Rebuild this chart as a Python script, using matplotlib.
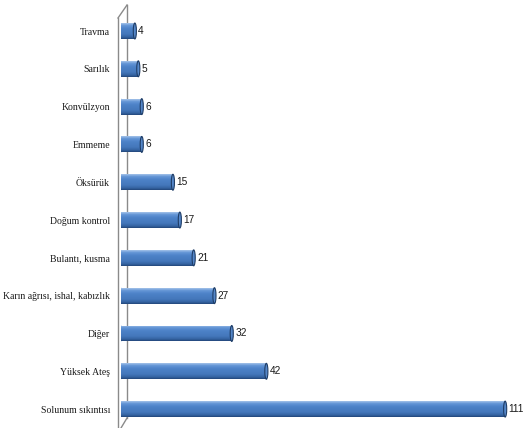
import numpy as np
import matplotlib
matplotlib.use("Agg")
import matplotlib.pyplot as plt
from matplotlib.colors import LinearSegmentedColormap
from matplotlib.patches import Rectangle, Ellipse
from matplotlib.lines import Line2D

# Complaint categories (top to bottom) and counts
categories = ["Travma", "Sarılık", "Konvülzyon", "Emmeme", "Öksürük",
              "Doğum kontrol", "Bulantı, kusma", "Karın ağrısı, ishal, kabızlık",
              "Diğer", "Yüksek Ateş", "Solunum sıkıntısı"]
counts = [4, 5, 6, 6, 15, 17, 21, 27, 32, 42, 111]

W, H = 527, 428
fig = plt.figure(figsize=(W / 100, H / 100), dpi=100)
fig.patch.set_facecolor("white")

ax_left, ax_right = 121, 519
ax = fig.add_axes([ax_left / W, 0, (ax_right - ax_left) / W, 1])
ax.set_xlim(0, 115)
ax.set_ylim(10.5, -0.82)
for s in ax.spines.values():
    s.set_visible(False)
ax.set_xticks([])
ax.set_yticks(range(len(categories)))
ax.set_yticklabels(categories, family=["Liberation Serif", "DejaVu Serif"],
                   fontsize=7.0, color="#1a1a1a")
ax.tick_params(axis="y", length=0, pad=8)
ax.patch.set_alpha(0)

# cylinder shading: thin light top, even body, dark bottom edge
cyl = LinearSegmentedColormap.from_list(
    "cyl", [(0.0, "#a4c2e9"), (0.15, "#6395d6"), (0.35, "#4d82c8"),
            (0.7, "#4477bb"), (0.88, "#3564a2"), (1.0, "#22467a")])
grad = np.linspace(0, 1, 64).reshape(-1, 1)

bar_h = 0.42
cap_w = 0.9
for i, v in enumerate(counts):
    y0 = i - bar_h / 2
    body = Rectangle((0, y0), v, bar_h, transform=ax.transData)
    im = ax.imshow(grad, cmap=cyl, aspect="auto",
                   extent=(0, v, i + bar_h / 2, i - bar_h / 2),
                   origin="upper", zorder=3, interpolation="bilinear")
    im.set_clip_path(body)
    # left rounded end
    ax.add_patch(Ellipse((0, i), cap_w, bar_h, facecolor="#4579bd",
                         edgecolor="none", zorder=2.9))
    # right end cap
    ax.add_patch(Ellipse((v, i), cap_w, bar_h, facecolor="#5587c9",
                         edgecolor="#1f3d66", lw=0.8, zorder=4))
    ax.text(v + 1.0, i, str(v), va="center", ha="left", fontsize=7.3,
            family=["Liberation Sans Narrow", "Liberation Sans", "DejaVu Sans"],
            color="#1a1a1a", zorder=5)

# side wall outline
def px(x, y):
    return x / W, 1 - y / H

wall = [((118, 18), (118, 428)), ((118, 18), (127, 5)),
        ((127, 5), (127, 418)), ((127, 418), (121, 428))]
for (a, b) in wall:
    (x1, y1), (x2, y2) = px(*a), px(*b)
    fig.add_artist(Line2D([x1, x2], [y1, y2], transform=fig.transFigure,
                          color="#8a8a8a", lw=1.0, zorder=-1))

fig.savefig("out.png", dpi=100, facecolor="white")
